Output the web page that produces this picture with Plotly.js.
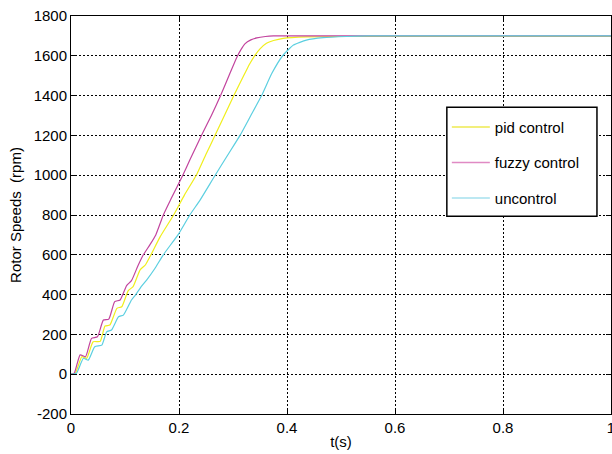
<!DOCTYPE html>
<html>
<head>
<meta charset="utf-8">
<script src="https://cdn.plot.ly/plotly-3.0.1.min.js"></script>
<style>html,body{margin:0;padding:0;background:#fff;}#chart{width:612px;height:454px;}</style>
</head>
<body>
<div id="chart"></div>
<script>
// series names
const seriesNames = ["pid control", "fuzzy control", "uncontrol"];

// pid control (yellow)
const pidT = [0, 0.008, 0.02, 0.029, 0.041, 0.054, 0.063, 0.072, 0.085, 0.094, 0.106, 0.115, 0.128, 0.138, 0.148, 0.165, 0.19, 0.21, 0.233, 0.25, 0.267, 0.285, 0.302, 0.322, 0.33, 0.34, 0.35, 0.362, 0.375, 0.393, 0.436, 0.5, 1.0];
const pidV = [0, 5, 88, 80, 163, 165, 242, 247, 331, 339, 420, 440, 524, 550, 600, 690, 800, 900, 1005, 1105, 1202, 1305, 1403, 1512, 1555, 1600, 1635, 1663, 1677, 1688, 1695, 1697, 1697];

// fuzzy control (magenta)
const fuzzyT = [0, 0.006, 0.017, 0.027, 0.038, 0.049, 0.06, 0.07, 0.081, 0.091, 0.103, 0.112, 0.124, 0.134, 0.146, 0.157, 0.171, 0.186, 0.207, 0.22, 0.242, 0.26, 0.277, 0.294, 0.307, 0.315, 0.322, 0.333, 0.344, 0.36, 0.375, 1.0];
const fuzzyV = [0, 5, 97, 88, 180, 188, 272, 277, 365, 373, 445, 470, 545, 600, 650, 700, 800, 885, 1000, 1076, 1202, 1300, 1400, 1510, 1592, 1632, 1660, 1680, 1690, 1697, 1700, 1700];

// uncontrol (cyan)
const unT = [0, 0.01, 0.023, 0.032, 0.044, 0.057, 0.066, 0.075, 0.088, 0.097, 0.112, 0.12, 0.13, 0.14, 0.155, 0.171, 0.2, 0.22, 0.239, 0.267, 0.29, 0.313, 0.333, 0.353, 0.372, 0.393, 0.412, 0.436, 0.467, 0.51, 0.55, 1.0];
const unV = [0, 5, 80, 71, 138, 146, 213, 222, 289, 297, 373, 400, 440, 473, 530, 600, 708, 800, 875, 1000, 1100, 1200, 1300, 1400, 1512, 1604, 1654, 1679, 1691, 1697, 1700, 1700];

const colors = ["#f0ee1c", "#c2449e", "#5ccfe0"];
const legendColors = ["#eeea50", "#e08ac4", "#a6e0ee"];

const xTicks = [0, 0.2, 0.4, 0.6, 0.8, 1];
const yTicks = [-200, 0, 200, 400, 600, 800, 1000, 1200, 1400, 1600, 1800];

const font = {family: "Liberation Sans, Arial, sans-serif", size: 15, color: "#000"};

const xs = [pidT, fuzzyT, unT];
const ys = [pidV, fuzzyV, unV];
const traces = [];
for (let i = 0; i < 3; i++) {
  traces.push({
    x: xs[i], y: ys[i], type: "scatter", mode: "lines",
    name: seriesNames[i], legendgroup: "g" + i,
    line: {color: colors[i], width: 1.2, shape: "spline", smoothing: 0.5},
    showlegend: false
  });
}
// legend entries (lighter sample lines as in reference)
for (let i = 0; i < 3; i++) {
  traces.push({
    x: [null], y: [null], type: "scatter", mode: "lines",
    name: seriesNames[i], legendgroup: "g" + i,
    line: {color: legendColors[i], width: 1.5},
    showlegend: true
  });
}

const axisCommon = {
  showline: true, linecolor: "#000", linewidth: 1, mirror: "ticks",
  ticks: "inside", ticklen: 5, tickcolor: "#000",
  showgrid: true, gridcolor: "#000", gridwidth: 1, griddash: "2px,2px",
  zeroline: false, tickfont: font, ticklabeloverflow: "allow"
};

const layout = {
  width: 612, height: 454,
  margin: {l: 71, r: 1, t: 16, b: 40, pad: 0},
  paper_bgcolor: "#fff", plot_bgcolor: "#fff",
  font: font,
  xaxis: Object.assign({}, axisCommon, {
    range: [0, 1], tickvals: xTicks, ticktext: xTicks.map(String),
    title: {text: "t(s)", font: font, standoff: 1}
  }),
  yaxis: Object.assign({}, axisCommon, {
    range: [-200, 1800], tickvals: yTicks, ticktext: yTicks.map(String),
    title: {text: "Rotor Speeds  (rpm)", font: font, standoff: 8}
  }),
  showlegend: true,
  legend: {
    x: 0.696, y: 0.762, xanchor: "left", yanchor: "top",
    bgcolor: "rgba(0,0,0,0)", borderwidth: 0,
    font: font, itemwidth: 38, tracegroupgap: 13, traceorder: "grouped"
  },
  shapes: [{
    type: "rect", xref: "paper", yref: "paper", layer: "above",
    x0: 0.696, x1: 0.974, y0: 0.497, y1: 0.771,
    line: {color: "#000", width: 1.5}, fillcolor: "#fff"
  }]
};

Plotly.newPlot("chart", traces, layout, {displayModeBar: false, staticPlot: true});
</script>
</body>
</html>
